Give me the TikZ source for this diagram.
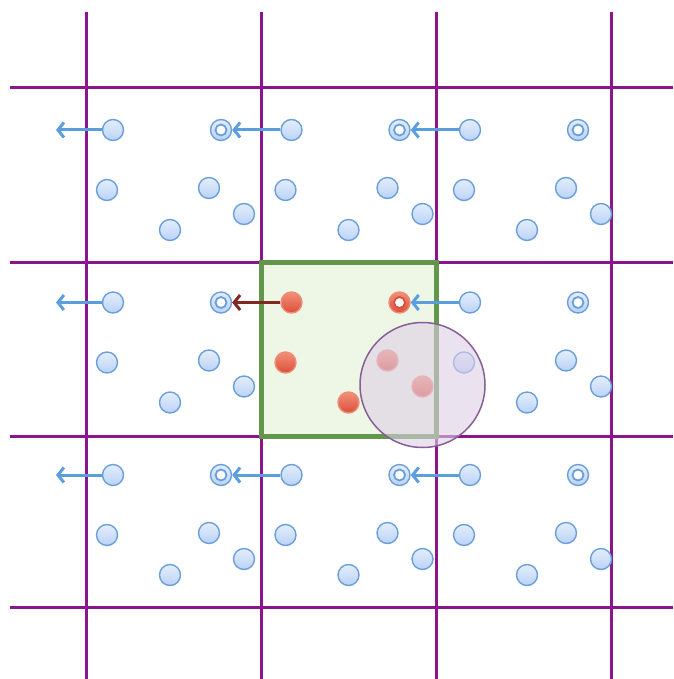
\documentclass[tikz,border=0pt]{standalone}
\usetikzlibrary{arrows.meta}
\definecolor{gridpurple}{RGB}{140,20,140}
\definecolor{ballblue}{RGB}{106,159,220}
\definecolor{balltop}{RGB}{228,238,252}
\definecolor{ballbottom}{RGB}{186,210,246}
\definecolor{arrowblue}{RGB}{90,158,224}
\definecolor{arrowred}{RGB}{130,40,34}
\definecolor{redrim}{RGB}{238,140,120}
\definecolor{redtop}{RGB}{242,145,120}
\definecolor{redbottom}{RGB}{220,78,58}
\definecolor{boxfill}{RGB}{238,246,229}
\definecolor{boxedge}{RGB}{98,150,74}
\definecolor{halofill}{RGB}{222,207,230}
\definecolor{haloedge}{RGB}{135,95,150}

\begin{document}
\begin{tikzpicture}[x=1pt, y=-1pt,
    cellline/.style={gridpurple, line width=3pt},
    ball/.style={circle, draw=ballblue, line width=1.4pt, minimum size=21pt,
        inner sep=0pt, top color=balltop, bottom color=ballbottom},
    redball/.style={ball, draw=redrim, top color=redtop, bottom color=redbottom},
    hole/.style={circle, draw=ballblue, line width=1.8pt, fill=white,
        minimum size=11pt, inner sep=0pt},
    redhole/.style={hole, draw=redbottom},
    move/.style={line width=3pt, -{Straight Barb[length=6pt, width=15pt]}}]

    \useasboundingbox (0,0) rectangle (673,679);

    % periodic cell boundaries
    \foreach \x in {86,261,436,611}
        \draw[cellline] (\x,12) -- (\x,679);
    \foreach \y in {88,262,436,607}
        \draw[cellline] (10,\y) -- (673,\y);

    % central simulation box
    \draw[line width=5pt, draw=boxedge, fill=boxfill] (261,262) rectangle (436,436);

    % particles in the eight image cells
    \foreach \c/\r in {1/1,2/1,3/1,1/2,3/2,1/3,2/3,3/3} {
        \pgfmathsetmacro\ax{113+(\c-1)*178.5}
        \pgfmathsetmacro\ay{130+(\r-1)*172.5}
        \node[ball] (a\c\r) at (\ax,\ay) {};
        \node[ball] (b\c\r) at (\ax-6,\ay+60) {};
        \node[ball] (c\c\r) at (\ax+57,\ay+100) {};
        \node[ball] (d\c\r) at (\ax+96,\ay+58) {};
        \node[ball] (e\c\r) at (\ax+131,\ay+84) {};
        \node[ball] (g\c\r) at (\ax+108,\ay) {};
        \node[hole] at (g\c\r) {};
    }

    % particles in the central cell
    \node[redball] (a22) at (291.5,302.5) {};
    \node[redball] (b22) at (285.5,362.5) {};
    \node[redball] (c22) at (348.5,402.5) {};
    \node[redball] (d22) at (387.5,360.5) {};
    \node[redball] (e22) at (422.5,386.5) {};
    \node[redball] (g22) at (399.5,302.5) {};
    \node[redhole] at (g22) {};

    % moves across the left wall
    \foreach \r in {1,2,3} {
        \pgfmathsetmacro\ay{130+(\r-1)*172.5}
        \coordinate (exit\r) at (56,\ay);
        \draw[move, arrowblue] (a1\r) -- (exit\r);
    }
    \foreach \c in {2,3}
        \foreach \r in {1,2,3} {
            \pgfmathtruncatemacro\p{\c-1}
            \ifnum\c\r=22 \def\tint{arrowred}\else\def\tint{arrowblue}\fi
            \draw[move, \tint] (a\c\r) -- (g\p\r);
        }

    % cutoff sphere
    \draw[line width=1.5pt, draw=haloedge, fill=halofill, fill opacity=0.6]
        (422.5,385) circle (62.5);

\end{tikzpicture}
\end{document}
